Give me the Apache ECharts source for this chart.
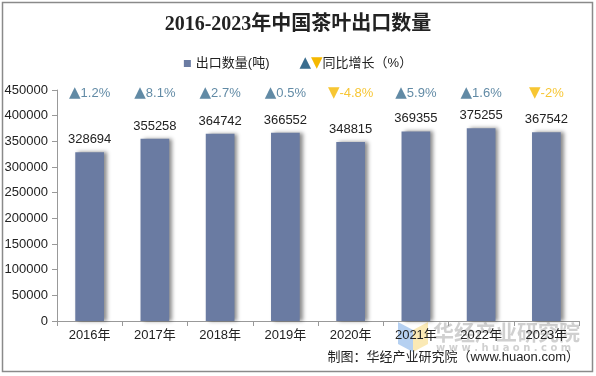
<!DOCTYPE html>
<html>
<head>
<meta charset="utf-8">
<script src="https://cdn.jsdelivr.net/npm/echarts@6/dist/echarts.min.js"></script>
<style>
  html, body { margin: 0; padding: 0; background: #fff; }
  #chart { width: 596px; height: 376px; }
</style>
</head>
<body>
<div id="chart"></div>
<script>
const years = ['2016年', '2017年', '2018年', '2019年', '2020年', '2021年', '2022年', '2023年'];
const exportTons = [328694, 355258, 364742, 366552, 348815, 369355, 375255, 367542];
const growthPct = [1.2, 8.1, 2.7, 0.5, -4.8, 5.9, 1.6, -2];
const yMax = 450000;
const yStep = 50000;

const barColor = '#6a7ba2';
const upColor = '#3a6d8e';
const downColor = '#f5b800';
const sans = '"Liberation Sans", Arial, "Noto Sans CJK SC", sans-serif';
const tri = '"DejaVu Sans", sans-serif';

const chart = echarts.init(document.getElementById('chart'));

chart.setOption({
  animation: false,
  backgroundColor: '#fff',
  title: {
    text: '2016-2023年中国茶叶出口数量',
    left: 'center',
    top: 10,
    textStyle: {
      fontFamily: '"Liberation Serif", "Noto Sans CJK SC", serif',
      fontSize: 20,
      fontWeight: 'bold',
      color: '#222'
    }
  },
  legend: {
    top: 51,
    left: 'center',
    itemGap: 18,
    itemWidth: 7,
    itemHeight: 7,
    textStyle: {
      fontFamily: sans,
      fontSize: 13,
      color: '#222',
      rich: {
        up: { color: upColor, fontSize: 15, fontFamily: tri },
        dn: { color: downColor, fontSize: 15, fontFamily: tri },
        t: { color: '#222', fontSize: 13, fontFamily: sans }
      }
    },
    data: [
      { name: '出口数量(吨)', icon: 'rect' },
      { name: '同比增长（%）', icon: 'none', itemStyle: { opacity: 0 } }
    ],
    formatter: function (name) {
      if (name === '同比增长（%）') return '{up|▲}{dn|▼}{t|同比增长（%）}';
      return name;
    }
  },
  grid: {
    left: 57,
    right: 17,
    top: 90,
    bottom: 55
  },
  xAxis: {
    type: 'category',
    data: years,
    axisLine: { lineStyle: { color: '#999' } },
    axisTick: { show: true, length: 5, lineStyle: { color: '#999' } },
    axisLabel: {
      color: '#222',
      fontFamily: sans,
      fontSize: 13,
      margin: 8
    }
  },
  yAxis: {
    type: 'value',
    min: 0,
    max: yMax,
    interval: yStep,
    axisLine: { show: true, lineStyle: { color: '#999' } },
    axisTick: { show: true, length: 5, lineStyle: { color: '#999' } },
    splitLine: { show: false },
    axisLabel: {
      color: '#222',
      fontFamily: sans,
      fontSize: 13,
      margin: 9,
      formatter: v => String(v)
    }
  },
  series: [
    {
      name: '出口数量(吨)',
      type: 'bar',
      data: exportTons,
      barWidth: '44%',
      itemStyle: {
        color: barColor,
        shadowColor: 'rgba(0,0,0,0.45)',
        shadowBlur: 4,
        shadowOffsetX: 3,
        shadowOffsetY: 0
      },
      label: {
        show: true,
        position: 'top',
        distance: 6,
        color: '#222',
        fontFamily: sans,
        fontSize: 13
      }
    },
    {
      name: '同比增长（%）',
      type: 'scatter',
      symbolSize: 0,
      data: growthPct.map((g, i) => ({ value: [years[i], yMax], growth: g })),
      label: {
        show: true,
        position: 'inside',
        offset: [0, 3],
        fontFamily: sans,
        fontSize: 13,
        formatter: function (p) {
          const g = p.data.growth;
          return g >= 0 ? '{u|▲}{uv|' + g + '%}' : '{d|▼}{dv|' + g + '%}';
        },
        rich: {
          u: { color: upColor, fontSize: 15, fontFamily: tri },
          uv: { color: upColor, fontSize: 13, fontFamily: sans },
          d: { color: downColor, fontSize: 15, fontFamily: tri },
          dv: { color: downColor, fontSize: 13, fontFamily: sans }
        }
      },
      itemStyle: { color: upColor }
    }
  ],
  graphic: [
    {
      type: 'rect',
      shape: { x: 2.5, y: 2.5, width: 590, height: 369 },
      style: { fill: 'none', stroke: '#8a8a8a', lineWidth: 1.5 },
      silent: true
    },
    {
      type: 'polygon',
      shape: { points: [[398, 322], [413, 330], [413, 352], [398, 344]] },
      style: { fill: 'rgba(120,170,230,0.55)' },
      silent: true
    },
    {
      type: 'polygon',
      shape: { points: [[413, 330], [428, 322], [428, 344], [413, 352]] },
      style: { fill: 'rgba(245,215,120,0.55)' },
      silent: true
    },
    {
      type: 'text',
      left: 433,
      top: 322,
      style: {
        text: '华经产业研究院',
        font: 'bold 21px "Noto Sans CJK SC", sans-serif',
        fill: 'rgba(150,150,150,0.45)'
      },
      silent: true
    },
    {
      type: 'text',
      left: 436,
      top: 343,
      style: {
        text: 'w w w . h u a o n . c o m',
        font: 'bold 10px "DejaVu Sans", sans-serif',
        fill: 'rgba(150,150,150,0.45)'
      },
      silent: true
    },
    {
      type: 'text',
      right: 17,
      top: 351,
      style: {
        text: '制图：华经产业研究院（www.huaon.com）',
        font: '13px "Liberation Sans", "Noto Sans CJK SC", sans-serif',
        fill: '#222'
      },
      silent: true
    }
  ]
});
</script>
</body>
</html>
